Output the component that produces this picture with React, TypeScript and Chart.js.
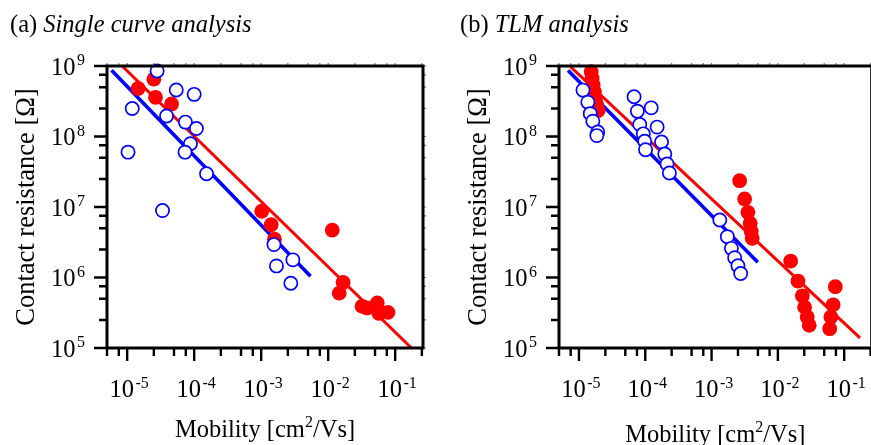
import React, { useEffect, useRef } from "react";
import { Chart, registerables } from "chart.js";

Chart.register(...registerables);

// ---- axis ranges & ticks ----
const X_MIN = 5e-6;
const X_MAX = 0.26;
const Y_MIN = 1e5;
const Y_MAX = 1e9;
const X_MAJOR_EXP = [-5, -4, -3, -2, -1];
const Y_MAJOR_EXP = [5, 6, 7, 8, 9];
const MINOR_MANTISSA = [2.5, 5, 7.5];

// ---- panel (a): Single curve analysis ----
const aRedX = [1.46e-5, 2.5e-5, 2.65e-5, 4.6e-5, 1.02e-3, 1.41e-3, 1.58e-3, 1.15e-2, 1.67e-2, 1.46e-2, 3.2e-2, 3.8e-2, 5.4e-2, 5.7e-2, 7.8e-2];
const aRedY = [4.8e8, 6.5e8, 3.6e8, 2.9e8, 8.7e6, 5.6e6, 3.5e6, 4.7e6, 8.5e5, 6.0e5, 3.9e5, 3.7e5, 4.35e5, 3.1e5, 3.2e5];
const aBlueX = [2.8e-5, 1.19e-5, 1.03e-5, 3.87e-5, 5.4e-5, 1.0e-4, 7.4e-5, 1.08e-4, 8.8e-5, 7.3e-5, 1.53e-4, 3.37e-5, 1.55e-3, 2.97e-3, 1.69e-3, 2.77e-3];
const aBlueY = [8.5e8, 2.5e8, 6.0e7, 1.95e8, 4.56e8, 3.96e8, 1.6e8, 1.3e8, 7.9e7, 6.0e7, 2.96e7, 8.9e6, 2.93e6, 1.78e6, 1.46e6, 8.3e5];
const aRedFitX = [8.4e-6, 0.175];
const aRedFitY = [1e9, 1e5];
const aBlueFitX = [5.84e-6, 5.45e-3];
const aBlueFitY = [8.68e8, 1.04e6];

// ---- panel (b): TLM analysis ----
const bRedX = [1.53e-5, 1.58e-5, 1.64e-5, 1.71e-5, 1.77e-5, 1.86e-5, 1.95e-5, 2.65e-3, 3.15e-3, 3.53e-3, 3.82e-3, 3.96e-3, 4.1e-3, 1.56e-2, 2.01e-2, 2.34e-2, 2.53e-2, 2.77e-2, 2.97e-2, 7.35e-2, 6.8e-2, 6.3e-2, 6.05e-2];
const bRedY = [8.3e8, 6.65e8, 5.37e8, 4.31e8, 3.46e8, 2.79e8, 2.33e8, 2.36e7, 1.3e7, 8.4e6, 5.9e6, 4.5e6, 3.6e6, 1.71e6, 8.9e5, 5.5e5, 3.8e5, 2.76e5, 2.1e5, 7.4e5, 4.1e5, 2.76e5, 1.88e5];
const bBlueX = [1.15e-5, 1.36e-5, 1.48e-5, 1.62e-5, 1.92e-5, 1.86e-5, 6.78e-5, 7.6e-5, 8.25e-5, 9.33e-5, 9.8e-5, 1.01e-4, 1.23e-4, 1.51e-4, 1.76e-4, 1.97e-4, 2.13e-4, 2.31e-4, 1.33e-3, 1.73e-3, 1.99e-3, 2.23e-3, 2.5e-3, 2.75e-3];
const bBlueY = [4.55e8, 3.07e8, 2.11e8, 1.65e8, 1.16e8, 1.03e8, 3.66e8, 2.29e8, 1.48e8, 1.09e8, 8.55e7, 6.5e7, 2.55e8, 1.36e8, 8.36e7, 5.65e7, 4.07e7, 3.03e7, 6.55e6, 3.8e6, 2.59e6, 1.91e6, 1.47e6, 1.14e6];
const bRedFitX = [7.5e-6, 0.173];
const bRedFitY = [9.7e8, 1.39e5];
const bBlueFitX = [6.86e-6, 4.98e-3];
const bBlueFitY = [8.66e8, 1.64e6];

// ---- texts ----
const X_TITLE = ["Mobility [cm", "2", "/Vs]"];
const Y_TITLE = "Contact resistance [Ω]";
const A_LABEL = "(a) ";
const A_TITLE = "Single curve analysis";
const B_LABEL = "(b) ";
const B_TITLE = "TLM analysis";

const FAMILY = '"Liberation Serif", "Times New Roman", serif';

type Seg = { t: string; size: number; rise?: number; italic?: boolean; gap?: number };

function setFont(ctx: CanvasRenderingContext2D, s: Seg) {
  ctx.font = `${s.italic ? "italic " : ""}${s.size}px ${FAMILY}`;
}

function drawSegs(ctx: CanvasRenderingContext2D, segs: Seg[], x: number, baseline: number, align: "left" | "center" | "right") {
  const widths = segs.map((s) => {
    setFont(ctx, s);
    return ctx.measureText(s.t).width + (s.gap || 0);
  });
  const total = widths.reduce((a, b) => a + b, 0);
  let cx = align === "left" ? x : align === "center" ? x - total / 2 : x - total;
  ctx.textAlign = "left";
  ctx.textBaseline = "alphabetic";
  segs.forEach((s, i) => {
    setFont(ctx, s);
    ctx.fillText(s.t, cx + (s.gap || 0), baseline - (s.rise || 0));
    cx += widths[i];
  });
}

function pow10Segs(e: number): Seg[] {
  return [
    { t: "10", size: 24.5 },
    { t: String(e), size: 16, rise: 9.5, gap: 1.5 },
  ];
}

type PanelInfo = {
  label: string;
  title: string;
  titleX: number;
  xTitleBaseline: number;
};

function zip(xs: number[], ys: number[]) {
  return xs.map((x, i) => ({ x, y: ys[i] }));
}

function minorValues(minExp: number, maxExp: number, lo: number, hi: number) {
  const out: number[] = [];
  for (let e = minExp; e <= maxExp; e++) {
    for (const m of MINOR_MANTISSA) {
      const v = m * Math.pow(10, e);
      if (v >= lo * 0.999 && v <= hi * 1.001) out.push(v);
    }
  }
  return out;
}

function axesPlugin(info: PanelInfo) {
  return {
    id: "customAxes",
    afterDraw(chart: any) {
      const ctx: CanvasRenderingContext2D = chart.ctx;
      const { left, right, top, bottom } = chart.chartArea;
      const xs = chart.scales.x;
      const ys = chart.scales.y;
      ctx.save();
      ctx.strokeStyle = "#000";
      ctx.fillStyle = "#000";
      ctx.lineCap = "butt";

      const xMajor = X_MAJOR_EXP.map((e) => Math.pow(10, e));
      const yMajor = Y_MAJOR_EXP.map((e) => Math.pow(10, e));
      const xMinor = minorValues(-6, -1, X_MIN, X_MAX);
      const yMinor = minorValues(4, 8, Y_MIN, Y_MAX);

      // outer ticks on bottom & left
      ctx.lineWidth = 2.4;
      ctx.beginPath();
      xMajor.forEach((v) => {
        const p = xs.getPixelForValue(v);
        ctx.moveTo(p, bottom);
        ctx.lineTo(p, bottom + 13);
      });
      xMinor.forEach((v) => {
        const p = xs.getPixelForValue(v);
        ctx.moveTo(p, bottom);
        ctx.lineTo(p, bottom + 8);
      });
      yMajor.forEach((v) => {
        const p = ys.getPixelForValue(v);
        ctx.moveTo(left, p);
        ctx.lineTo(left - 13, p);
      });
      yMinor.forEach((v) => {
        const p = ys.getPixelForValue(v);
        ctx.moveTo(left, p);
        ctx.lineTo(left - 8, p);
      });
      ctx.stroke();

      // tiny ticks on top & right
      ctx.lineWidth = 1.2;
      ctx.strokeStyle = "#777";
      ctx.beginPath();
      [...xMajor, ...xMinor].forEach((v) => {
        const p = xs.getPixelForValue(v);
        ctx.moveTo(p, top);
        ctx.lineTo(p, top - 3);
      });
      [...yMajor, ...yMinor].forEach((v) => {
        const p = ys.getPixelForValue(v);
        ctx.moveTo(right, p);
        ctx.lineTo(right + 3, p);
      });
      ctx.stroke();

      // frame
      ctx.strokeStyle = "#000";
      ctx.lineWidth = 3;
      ctx.strokeRect(left, top, right - left, bottom - top);

      // tick labels
      X_MAJOR_EXP.forEach((e) => {
        const p = xs.getPixelForValue(Math.pow(10, e));
        drawSegs(ctx, pow10Segs(e), p + 2, bottom + 49, "center");
      });
      Y_MAJOR_EXP.forEach((e) => {
        const p = ys.getPixelForValue(Math.pow(10, e));
        drawSegs(ctx, pow10Segs(e), left - 22, p + 8.5, "right");
      });

      // x title
      drawSegs(
        ctx,
        [
          { t: X_TITLE[0], size: 24.5 },
          { t: X_TITLE[1], size: 16, rise: 10 },
          { t: X_TITLE[2], size: 24.5 },
        ],
        (left + right) / 2,
        info.xTitleBaseline,
        "center"
      );

      // y title
      ctx.save();
      ctx.translate(left - 73, (top + bottom) / 2);
      ctx.rotate(-Math.PI / 2);
      drawSegs(ctx, [{ t: Y_TITLE, size: 26.5 }], 0, 0, "center");
      ctx.restore();

      // panel title
      drawSegs(
        ctx,
        [
          { t: info.label, size: 24.5 },
          { t: info.title, size: 24.5, italic: true },
        ],
        info.titleX,
        31.5,
        "left"
      );
      ctx.restore();
    },
  };
}

function makeConfig(
  redX: number[],
  redY: number[],
  blueX: number[],
  blueY: number[],
  redFitX: number[],
  redFitY: number[],
  blueFitX: number[],
  blueFitY: number[],
  padding: { left: number; right: number; top: number; bottom: number },
  info: PanelInfo
): any {
  return {
    type: "scatter",
    data: {
      datasets: [
        {
          label: "blue",
          data: zip(blueX, blueY),
          pointRadius: 6.6,
          pointBorderWidth: 1.7,
          pointBackgroundColor: "#ffffff",
          pointBorderColor: "#0000ff",
          showLine: false,
          order: 0,
          clip: false,
        },
        {
          label: "red",
          data: zip(redX, redY),
          pointRadius: 7.4,
          pointBorderWidth: 0,
          pointBackgroundColor: "#ff0000",
          pointBorderColor: "#ff0000",
          showLine: false,
          order: 1,
          clip: false,
        },
        {
          label: "blue fit",
          data: zip(blueFitX, blueFitY),
          showLine: true,
          borderColor: "#0000ff",
          borderWidth: 3.6,
          pointRadius: 0,
          order: 2,
        },
        {
          label: "red fit",
          data: zip(redFitX, redFitY),
          showLine: true,
          borderColor: "#ff0000",
          borderWidth: 3,
          pointRadius: 0,
          order: 3,
        },
      ],
    },
    options: {
      responsive: false,
      animation: false,
      events: [],
      layout: { padding },
      plugins: { legend: { display: false }, tooltip: { enabled: false } },
      scales: {
        x: { type: "logarithmic", min: X_MIN, max: X_MAX, display: false },
        y: { type: "logarithmic", min: Y_MIN, max: Y_MAX, display: false },
      },
    },
    plugins: [axesPlugin(info)],
  };
}

export default function App() {
  const refA = useRef<HTMLCanvasElement>(null);
  const refB = useRef<HTMLCanvasElement>(null);

  useEffect(() => {
    const chartA = new Chart(
      refA.current as HTMLCanvasElement,
      makeConfig(
        aRedX, aRedY, aBlueX, aBlueY, aRedFitX, aRedFitY, aBlueFitX, aBlueFitY,
        { left: 107, right: 12, top: 66, bottom: 97 },
        { label: A_LABEL, title: A_TITLE, titleX: 10, xTitleBaseline: 437 }
      )
    );
    const chartB = new Chart(
      refB.current as HTMLCanvasElement,
      makeConfig(
        bRedX, bRedY, bBlueX, bBlueY, bRedFitX, bRedFitY, bBlueFitX, bBlueFitY,
        { left: 124, right: 5, top: 66, bottom: 97 },
        { label: B_LABEL, title: B_TITLE, titleX: 25, xTitleBaseline: 442 }
      )
    );
    return () => {
      chartA.destroy();
      chartB.destroy();
    };
  }, []);

  return (
    <div
      style={{
        position: "absolute",
        left: 0,
        top: 0,
        width: 871,
        height: 445,
        overflow: "hidden",
        background: "#fff",
      }}
    >
      <canvas ref={refA} width={435} height={445} style={{ position: "absolute", left: 0, top: 0 }} />
      <canvas ref={refB} width={445} height={445} style={{ position: "absolute", left: 435, top: 0 }} />
    </div>
  );
}
